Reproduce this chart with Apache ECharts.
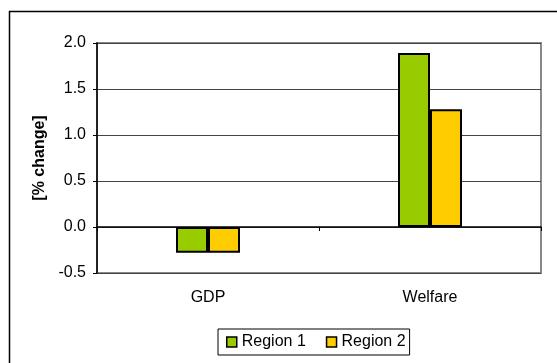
<!DOCTYPE html>
<html>
<head>
<meta charset="utf-8">
<script src="https://cdn.jsdelivr.net/npm/echarts@6/dist/echarts.min.js"></script>
<style>html,body{margin:0;padding:0;background:#fff;}#c{width:557px;height:363px;}</style>
</head>
<body>
<div id="c"></div>
<script>
var categories = ['GDP', 'Welfare'];
var seriesNames = ['Region 1', 'Region 2'];
var region1 = [-0.28, 1.89];
var region2 = [-0.28, 1.28];
var yTicks = [-0.5, 0.0, 0.5, 1.0, 1.5, 2.0];

var font = 'Liberation Sans, Arial, sans-serif';
var chart = echarts.init(document.getElementById('c'), null, {renderer: 'canvas'});
chart.setOption({
  animation: false,
  backgroundColor: '#fff',
  graphic: [{
    type: 'rect', left: 7, top: 9, z: 0,
    shape: {width: 600, height: 400},
    style: {fill: 'none', stroke: '#000', lineWidth: 1.5}
  }],
  grid: {left: 97, top: 43, width: 444, height: 230, show: true, borderColor: '#888', borderWidth: 2, backgroundColor: '#fff'},
  legend: {
    left: 218, top: 329, padding: [5, 4, 5, 8], itemGap: 20,
    borderColor: '#000', borderWidth: 1,
    icon: 'rect', itemWidth: 10, itemHeight: 10,
    itemStyle: {borderColor: '#000', borderWidth: 1.5},
    textStyle: {fontFamily: font, fontSize: 16, color: '#000'},
    data: seriesNames
  },
  xAxis: [{
    type: 'category', data: categories,
    axisLine: {onZero: true, lineStyle: {color: '#000', width: 1.5}},
    axisTick: {show: true, length: 4, lineStyle: {color: '#000'}},
    axisLabel: {show: false},
    splitLine: {show: false}
  }, {
    type: 'category', data: categories, position: 'bottom',
    axisLine: {show: false, onZero: false},
    axisTick: {show: false},
    axisLabel: {margin: 17, fontFamily: font, fontSize: 16, color: '#000'}
  }],
  yAxis: {
    type: 'value', min: -0.5, max: 2.0, interval: 0.5,
    name: '[% change]', nameLocation: 'middle', nameGap: 49,
    nameTextStyle: {fontFamily: font, fontSize: 16, fontWeight: 'bold', color: '#000'},
    axisLine: {show: true, lineStyle: {color: '#000', width: 1.5}},
    axisTick: {show: true, length: 4, lineStyle: {color: '#000'}},
    axisLabel: {margin: 11, fontFamily: font, fontSize: 16, color: '#000',
      formatter: function (v) { return v.toFixed(1); }},
    splitLine: {show: true, lineStyle: {color: '#444', width: 1}}
  },
  series: [{
    name: seriesNames[0], type: 'bar', data: region1, barWidth: 32, barGap: '0%',
    itemStyle: {color: '#99cc00', borderColor: '#000', borderWidth: 2}
  }, {
    name: seriesNames[1], type: 'bar', data: region2, barWidth: 32, barGap: '0%',
    itemStyle: {color: '#ffcc00', borderColor: '#000', borderWidth: 2}
  }]
});
</script>
</body>
</html>
